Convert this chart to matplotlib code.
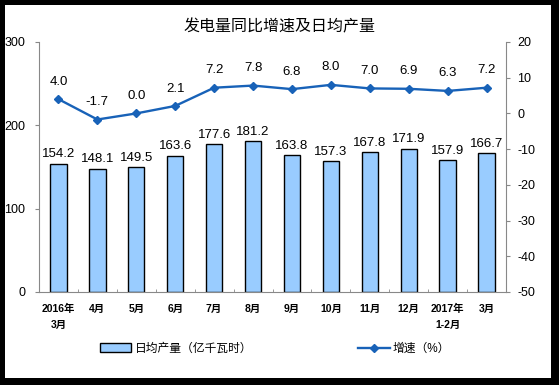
import matplotlib
matplotlib.use("Agg")
import matplotlib.pyplot as plt
from matplotlib.patches import Rectangle
import numpy as np

plt.rcParams['font.family'] = ['Liberation Sans', 'Noto Sans CJK SC', 'DejaVu Sans']

categories = ["2016年\n3月", "4月", "5月", "6月", "7月", "8月", "9月", "10月", "11月", "12月", "2017年\n1-2月", "3月"]
output = [154.2, 148.1, 149.5, 163.6, 177.6, 181.2, 163.8, 157.3, 167.8, 171.9, 157.9, 166.7]
growth = [4.0, -1.7, 0.0, 2.1, 7.2, 7.8, 6.8, 8.0, 7.0, 6.9, 6.3, 7.2]
left_ticks = [0, 100, 200, 300]
right_ticks = [-50, -40, -30, -20, -10, 0, 10, 20]

fig = plt.figure(figsize=(5.59, 3.85), dpi=100)
fig.patch.set_facecolor('black')
fig.patches.append(Rectangle((5/559, 7/385), (551-5)/559, (380-7)/385,
                             transform=fig.transFigure, facecolor='white',
                             edgecolor='none', zorder=-10))

ax = fig.add_axes([39/559, 1-292/385, (506-39)/559, (292-42)/385])
ax.set_facecolor('none')
x = np.arange(len(categories))
bars = ax.bar(x, output, width=0.42, color='#99CCFF', edgecolor='black', linewidth=1.0,
              label='日均产量（亿千瓦时）', zorder=2)
ax.set_ylim(0, 300)
ax.set_xlim(-0.5, len(categories) - 0.5)
ax.set_yticks(left_ticks)
ax.set_yticklabels([str(t) for t in left_ticks], fontsize=9)
ax.tick_params(axis='y', direction='out', length=3, color='#888888', pad=7)
ax.set_xticks(x)
ax.set_xticklabels(categories, fontsize=7.5, fontweight='bold', linespacing=1.7)
ax.tick_params(axis='x', length=0, pad=8.5)
ax.set_xticks(np.arange(-0.5, len(categories), 1), minor=True)
ax.tick_params(axis='x', which='minor', direction='in', length=2.5, color='#888888')
for s in ['top', 'right']:
    ax.spines[s].set_visible(False)
ax.spines['left'].set_color('#888888')
ax.spines['bottom'].set_color('#888888')
for xi, v in zip(x, output):
    ax.text(xi, v + 4, f"{v:.1f}", ha='center', va='bottom', fontsize=9.5)

ax2 = ax.twinx()
ax2.plot(x, growth, color='#1862B8', marker='D', markersize=4.5, linewidth=1.7,
         label='增速（%）', zorder=3)
ax2.set_ylim(-50, 20)
ax2.set_yticks(right_ticks)
ax2.set_yticklabels([str(t) for t in right_ticks], fontsize=9)
ax2.tick_params(axis='y', direction='out', length=3, color='#888888', pad=5)
for s in ['top', 'left', 'bottom']:
    ax2.spines[s].set_visible(False)
ax2.spines['right'].set_color('#888888')
for xi, v in zip(x, growth):
    ax2.text(xi, v + 3.2, f"{v:.1f}", ha='center', va='bottom', fontsize=9.5)

fig.text(280/559, 1-27/385, "发电量同比增速及日均产量", ha='center', va='center', fontsize=11.5)

fig.legend(handles=[bars], labels=['日均产量（亿千瓦时）'], loc='center',
           bbox_to_anchor=(176/559, 1-349/385), frameon=False, fontsize=8.5,
           handlelength=2.7, handleheight=0.8, handletextpad=0.3)
l2, = ax2.get_lines()
fig.legend(handles=[l2], labels=['增速（%）'], loc='center',
           bbox_to_anchor=(404/559, 1-349/385), frameon=False, fontsize=8.5,
           handlelength=2.7, handletextpad=0.2)

fig.savefig('out.png', dpi=100, facecolor=fig.get_facecolor())
